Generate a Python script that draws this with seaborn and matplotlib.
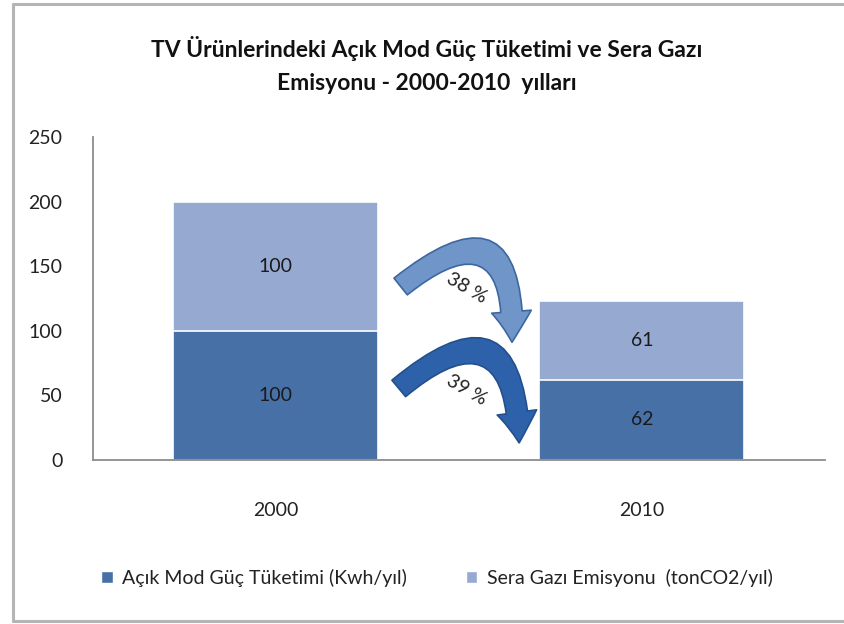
import numpy as np
import pandas as pd
import matplotlib
matplotlib.use("Agg")
import matplotlib.pyplot as plt
from matplotlib.patches import FancyArrowPatch, Patch
from matplotlib.lines import Line2D
import seaborn as sns

years = ["2000", "2010"]
guc = [100, 62]       # Açık Mod Güç Tüketimi (Kwh/yıl)
sera = [100, 61]      # Sera Gazı Emisyonu (tonCO2/yıl)
pct_labels = ["38 %", "39 %"]
series_names = ["Açık Mod Güç Tüketimi (Kwh/yıl)", "Sera Gazı Emisyonu  (tonCO2/yıl)"]

dark = "#4670a6"
light = "#95a9d1"

sns.set_style("white")
plt.rcParams["font.family"] = ["Lato", "DejaVu Sans"]

df = pd.DataFrame({"year": years, "guc": guc, "sera": sera})
df["total"] = df["guc"] + df["sera"]

fig = plt.figure(figsize=(8.45, 6.24), dpi=100)
ax = fig.add_axes([0.110, 0.263, 0.866, 0.517])

# stacked bars: total first (light), then the bottom series (dark) on top of it
sns.barplot(data=df, x="year", y="total", color=light, width=0.56,
            edgecolor="white", linewidth=1.2, saturation=1, ax=ax)
sns.barplot(data=df, x="year", y="guc", color=dark, width=0.56,
            edgecolor="white", linewidth=1.2, saturation=1, ax=ax)

ax.set_xlim(-0.5, 1.5)
ax.set_ylim(0, 250)
ax.set_yticks(range(0, 251, 50))
ax.set_xlabel("")
ax.set_ylabel("")
ax.tick_params(axis="y", length=0, labelsize=14, pad=22, colors="#222222")
ax.tick_params(axis="x", length=0, labelsize=14, pad=30, colors="#222222")
for s in ["top", "right"]:
    ax.spines[s].set_visible(False)
for s in ["left", "bottom"]:
    ax.spines[s].set_color("#8c8c8c")
    ax.spines[s].set_linewidth(1.3)

# segment labels
for i in range(len(years)):
    ax.text(i, guc[i] / 2, str(guc[i]), ha="center", va="center", fontsize=14, color="#1a1a1a")
    ax.text(i, guc[i] + sera[i] / 2, str(sera[i]), ha="center", va="center", fontsize=14, color="#1a1a1a")

# curved arrows between the bars
astyle = "simple,head_width=1.3,head_length=1.0,tail_width=0.7"
arr1 = FancyArrowPatch((0.335, 133), (0.645, 89), connectionstyle="arc3,rad=-1.1",
                       arrowstyle=astyle, mutation_scale=22,
                       facecolor="#6f95c9", edgecolor="#3d679f", lw=1.2,
                       clip_on=False, zorder=5)
arr2 = FancyArrowPatch((0.33, 54), (0.665, 11), connectionstyle="arc3,rad=-1.05",
                       arrowstyle=astyle, mutation_scale=22,
                       facecolor="#2d62aa", edgecolor="#234f8c", lw=1.2,
                       clip_on=False, zorder=5)
ax.add_patch(arr1)
ax.add_patch(arr2)
ax.text(0.522, 133, pct_labels[0], rotation=-30, ha="center", va="center", fontsize=14, color="#222222", zorder=6)
ax.text(0.522, 54, pct_labels[1], rotation=-30, ha="center", va="center", fontsize=14, color="#222222", zorder=6)

fig.text(0.505, 0.923, "TV Ürünlerindeki Açık Mod Güç Tüketimi ve Sera Gazı",
         ha="center", va="center", fontsize=16.5, fontweight="bold", color="#111111")
fig.text(0.505, 0.866, "Emisyonu - 2000-2010  yılları",
         ha="center", va="center", fontsize=16.5, fontweight="bold", color="#111111")

handles = [Patch(facecolor=dark), Patch(facecolor=light)]
fig.legend(handles, series_names, loc="center", bbox_to_anchor=(0.517, 0.074), ncol=2,
           frameon=False, fontsize=14, handlelength=0.6, handleheight=0.6,
           handletextpad=0.5, columnspacing=3.0, labelcolor="#222222")

# outer frame
frame_kw = dict(color="#b5b5b5", lw=2.2, transform=fig.transFigure)
fig.add_artist(Line2D([0.0148, 0.0148], [0.005, 0.994], **frame_kw))
fig.add_artist(Line2D([0.0148, 1.0], [0.994, 0.994], **frame_kw))
fig.add_artist(Line2D([0.0148, 1.0], [0.005, 0.005], **frame_kw))

fig.savefig("out.png", dpi=100)
